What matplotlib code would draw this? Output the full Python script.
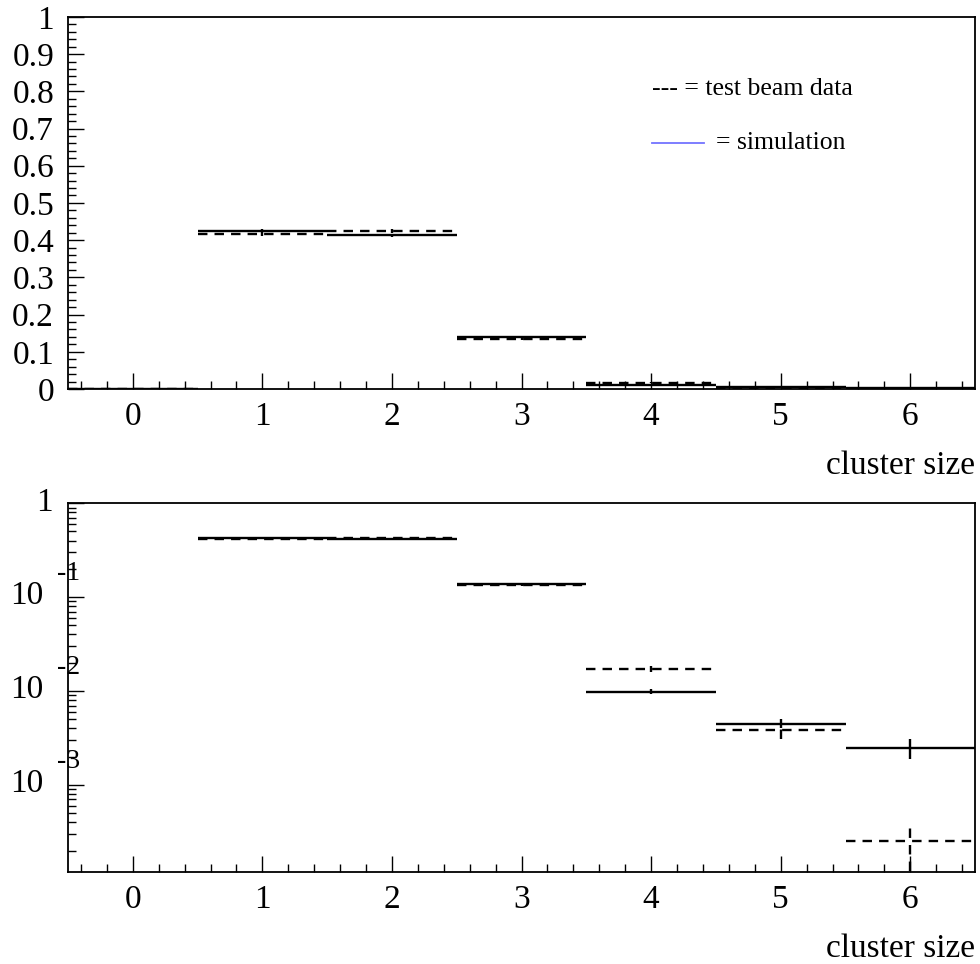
import matplotlib
matplotlib.use('Agg')
import matplotlib.pyplot as plt
import numpy as np
from matplotlib.ticker import MultipleLocator, LogLocator, NullFormatter, FixedLocator

plt.rcParams['font.family'] = ['Liberation Serif', 'DejaVu Serif']

# cluster size bins 0..6
cluster_size = [0, 1, 2, 3, 4, 5, 6]
sim_frac = [0.0, 0.425, 0.413, 0.139, 0.0098, 0.0045, 0.0025]
sim_err = [0.0, 0.004, 0.004, 0.002, 0.0006, 0.0005, 0.0006]
data_frac = [0.0, 0.416, 0.424, 0.134, 0.0172, 0.0038, 0.00025]
data_err = [0.0, 0.005, 0.005, 0.003, 0.0011, 0.0007, 0.00013]

x = np.array(cluster_size, dtype=float)
lo = x - 0.5
hi = x + 0.5

fig = plt.figure(figsize=(9.8, 9.64), dpi=100)
ax1 = fig.add_axes([0.0694, 0.5965, 0.9256, 0.386])
ax2 = fig.add_axes([0.0694, 0.0954, 0.9256, 0.3826])


def draw_hist(ax, vals, errs, ls, mask=None):
    v = np.array(vals)
    e = np.array(errs)
    if mask is None:
        mask = np.ones_like(v, dtype=bool)
    ax.hlines(v[mask], lo[mask], hi[mask], colors='black', linestyles=ls, lw=1.7)
    eb = ax.errorbar(x[mask], v[mask], yerr=e[mask], fmt='none', ecolor='black', elinewidth=1.7)
    for c in eb[2]:
        c.set_linestyle(ls)


def style_axes(ax):
    ax.set_xlim(-0.5, 6.5)
    ax.xaxis.set_major_locator(MultipleLocator(1))
    ax.xaxis.set_minor_locator(MultipleLocator(0.2))
    ax.tick_params(axis='both', which='both', direction='in', top=False, right=False, labelsize=24)
    ax.tick_params(axis='both', which='major', length=11.5, width=1)
    ax.tick_params(axis='both', which='minor', length=6, width=1)
    ax.tick_params(axis='x', pad=9)
    for s in ax.spines.values():
        s.set_linewidth(1.3)
    ax.set_xlabel('cluster size', fontsize=24, loc='right', labelpad=13)


# top panel, linear
draw_hist(ax1, sim_frac, sim_err, 'solid')
draw_hist(ax1, data_frac, data_err, (0, (4, 3)))
style_axes(ax1)
ax1.set_ylim(0, 1)
ax1.yaxis.set_major_locator(MultipleLocator(0.1))
ax1.yaxis.set_minor_locator(MultipleLocator(0.02))
ax1.tick_params(axis='y', pad=10)
ax1.set_yticks(np.arange(0, 1.01, 0.1))
ax1.set_yticklabels(['0'] + ['%.1f' % t for t in np.arange(0.1, 0.95, 0.1)] + ['1'])

ax1.text(0.644, 0.805, '--- = test beam data', transform=ax1.transAxes, fontsize=18.5, va='center')
ax1.plot([0.644, 0.701], [0.66, 0.66], transform=ax1.transAxes, color='#7373ff', lw=1.3)
ax1.text(0.714, 0.66, '= simulation', transform=ax1.transAxes, fontsize=18.5, va='center')

# bottom panel, log
pos = np.array(sim_frac) > 0
draw_hist(ax2, sim_frac, sim_err, 'solid', pos)
pos_d = np.array(data_frac) > 0
draw_hist(ax2, data_frac, data_err, (0, (4, 3)), pos_d)
style_axes(ax2)
ax2.set_yscale('log')
ax2.set_ylim(1.18e-4, 1)
ax2.yaxis.set_major_locator(FixedLocator([1e-3, 1e-2, 1e-1, 1]))
ax2.yaxis.set_minor_locator(LogLocator(base=10, subs=np.arange(2, 10)))
ax2.yaxis.set_major_formatter(NullFormatter())
ax2.yaxis.set_minor_formatter(NullFormatter())

ytr = ax2.get_yaxis_transform()
ax2.annotate('1', xy=(0, 1), xycoords=ytr, xytext=(-11, 0), textcoords='offset points',
             ha='right', va='center', fontsize=24)
for p in [-1, -2, -3]:
    ax2.annotate('10', xy=(0, 10.0 ** p), xycoords=ytr, xytext=(-18, 1), textcoords='offset points',
                 ha='right', va='center', fontsize=24)
    ax2.annotate('-%d' % (-p), xy=(0, 10.0 ** p), xycoords=ytr, xytext=(-8, 17), textcoords='offset points',
                 ha='left', va='center', fontsize=20)

fig.savefig('out.png', dpi=100)
